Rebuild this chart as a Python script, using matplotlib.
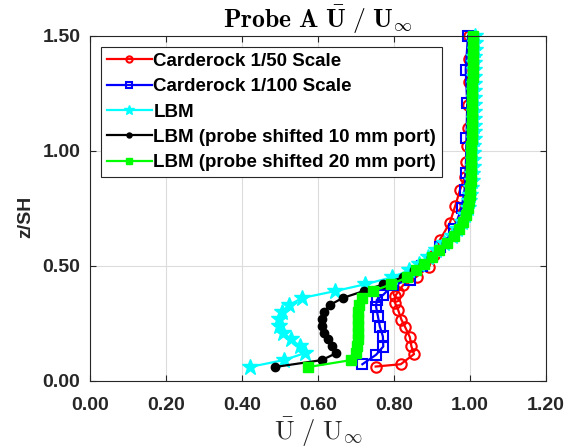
import matplotlib
matplotlib.use("Agg")
import matplotlib.pyplot as plt
from matplotlib.ticker import FormatStrFormatter

plt.rcParams['mathtext.fontset'] = 'cm'
plt.rcParams['font.family'] = ['Liberation Sans', 'DejaVu Sans']

# Carderock 1/50 scale (experiment)
z_c50 = [0.062, 0.072, 0.116, 0.150, 0.190, 0.236, 0.265, 0.309, 0.339, 0.367,
         0.388, 0.417, 0.453, 0.497, 0.545, 0.613, 0.686, 0.758, 0.830, 0.888,
         0.95, 1.02, 1.10, 1.20, 1.30, 1.40, 1.50]
u_c50 = [0.752, 0.818, 0.853, 0.846, 0.842, 0.829, 0.820, 0.811, 0.803, 0.803,
         0.811, 0.825, 0.860, 0.893, 0.905, 0.921, 0.947, 0.961, 0.974, 0.987,
         0.991, 0.993, 0.995, 0.996, 0.997, 0.997, 0.997]

# Carderock 1/100 scale (experiment)
z_c100 = [0.072, 0.113, 0.149, 0.193, 0.236, 0.280, 0.323, 0.352, 0.374, 0.417,
          0.439, 0.50, 0.58, 0.66, 0.75, 0.83, 0.903, 1.055, 1.207, 1.352, 1.50]
u_c100 = [0.717, 0.753, 0.772, 0.771, 0.763, 0.758, 0.753, 0.755, 0.772, 0.798,
          0.842, 0.875, 0.922, 0.958, 0.978, 0.986, 0.989, 0.991, 0.993, 0.989, 0.995]

# LBM probe heights
z_lbm = [0.06, 0.09, 0.12, 0.15, 0.18, 0.21, 0.24, 0.27, 0.30, 0.33,
         0.36, 0.39, 0.42, 0.45, 0.48, 0.51, 0.54, 0.57, 0.60, 0.63,
         0.66, 0.69, 0.72, 0.75, 0.78, 0.81, 0.84, 0.87, 0.90, 0.93,
         0.96, 0.99, 1.02, 1.05, 1.08, 1.11, 1.14, 1.17, 1.20, 1.23,
         1.26, 1.29, 1.32, 1.35, 1.38, 1.41, 1.44, 1.47, 1.50]

u_lbm = [0.420, 0.510, 0.565, 0.553, 0.530, 0.508, 0.497, 0.497, 0.505, 0.525,
         0.558, 0.645, 0.725, 0.795, 0.840, 0.866, 0.890, 0.912, 0.933, 0.952,
         0.967, 0.979, 0.988, 0.994, 0.998, 1.001, 1.003, 1.005, 1.006, 1.007,
         1.008, 1.009, 1.009, 1.010, 1.010, 1.010, 1.011, 1.011, 1.011, 1.011,
         1.012, 1.012, 1.012, 1.012, 1.012, 1.012, 1.013, 1.013, 1.013]

u_lbm10 = [0.487, 0.610, 0.648, 0.637, 0.627, 0.617, 0.611, 0.610, 0.615, 0.632,
           0.665, 0.720, 0.772, 0.823, 0.853, 0.876, 0.898, 0.918, 0.938, 0.955,
           0.969, 0.980, 0.988, 0.993, 0.996, 0.998, 0.999, 1.000, 1.001, 1.001,
           1.002, 1.002, 1.002, 1.003, 1.003, 1.003, 1.003, 1.004, 1.004, 1.004,
           1.004, 1.004, 1.005, 1.005, 1.005, 1.005, 1.005, 1.005, 1.005]

u_lbm20 = [0.575, 0.687, 0.700, 0.703, 0.705, 0.706, 0.706, 0.706, 0.706, 0.707,
           0.715, 0.745, 0.793, 0.835, 0.857, 0.878, 0.900, 0.920, 0.940, 0.957,
           0.971, 0.982, 0.990, 0.995, 0.998, 1.000, 1.001, 1.002, 1.003, 1.003,
           1.004, 1.004, 1.004, 1.005, 1.005, 1.005, 1.005, 1.006, 1.006, 1.006,
           1.006, 1.006, 1.007, 1.007, 1.007, 1.007, 1.007, 1.007, 1.007]

labels = ['Carderock 1/50 Scale', 'Carderock 1/100 Scale', 'LBM',
          'LBM (probe shifted 10 mm port)', 'LBM (probe shifted 20 mm port)']

txt = '#262626'

fig = plt.figure(figsize=(5.77, 4.48), dpi=100)
ax = fig.add_axes([0.156, 0.150, 0.790, 0.770])

ax.plot(u_c50, z_c50, color='#ff0000', lw=1.6, marker='o', ms=7.5, mfc='none', mew=1.5,
        label=labels[0], clip_on=False)
ax.plot(u_c100, z_c100, color='#0000ff', lw=1.6, marker='s', ms=6.5, mfc='none', mew=1.5,
        label=labels[1], clip_on=False)
ax.plot(u_lbm, z_lbm, color='#00ffff', lw=1.6, marker='*', ms=12, label=labels[2], clip_on=False)
ax.plot(u_lbm10, z_lbm, color='k', lw=1.6, marker='o', ms=6, label=labels[3], clip_on=False)
ax.plot(u_lbm20, z_lbm, color='#00ff00', lw=1.6, marker='s', ms=7.5, label=labels[4], clip_on=False)

ax.set_xlim(0, 1.2)
ax.set_ylim(0, 1.5)
ax.set_xticks([0, 0.2, 0.4, 0.6, 0.8, 1.0, 1.2])
ax.set_yticks([0, 0.5, 1.0, 1.5])
ax.xaxis.set_major_formatter(FormatStrFormatter('%.2f'))
ax.yaxis.set_major_formatter(FormatStrFormatter('%.2f'))
ax.grid(True, color='#dcdcdc', lw=0.8)
ax.set_axisbelow(True)
ax.tick_params(direction='in', top=True, right=True, length=4, width=0.8,
               colors=txt, labelsize=14)
ax.tick_params(axis='x', pad=12)
ax.tick_params(axis='y', pad=7)
for lab in ax.get_xticklabels() + ax.get_yticklabels():
    lab.set_fontweight('bold')
for sp in ax.spines.values():
    sp.set_color(txt)
    sp.set_linewidth(0.8)

ax.set_title(r'$\mathbf{Probe\ A}\ \bar{\mathbf{U}}\ /\ \mathbf{U}_{\infty}$',
             fontsize=18.5, color='k', pad=6)
ax.set_xlabel(r'$\bar{\mathrm{U}}\ /\ \mathrm{U}_{\infty}$', fontsize=19, color=txt, labelpad=1)
ax.set_ylabel('z/SH', fontsize=14, fontweight='bold', color=txt)
ax.yaxis.set_label_coords(-0.122, 0.475)

leg = ax.legend(loc='upper left', prop={'weight': 'bold', 'size': 13.5},
                frameon=True, fancybox=False, framealpha=1, edgecolor=txt,
                borderaxespad=0.6, handlelength=2.4, handletextpad=0.08,
                labelspacing=0.44, borderpad=0.3, markerscale=0.6)
leg.get_frame().set_linewidth(0.8)

fig.savefig('out.png', dpi=100)
